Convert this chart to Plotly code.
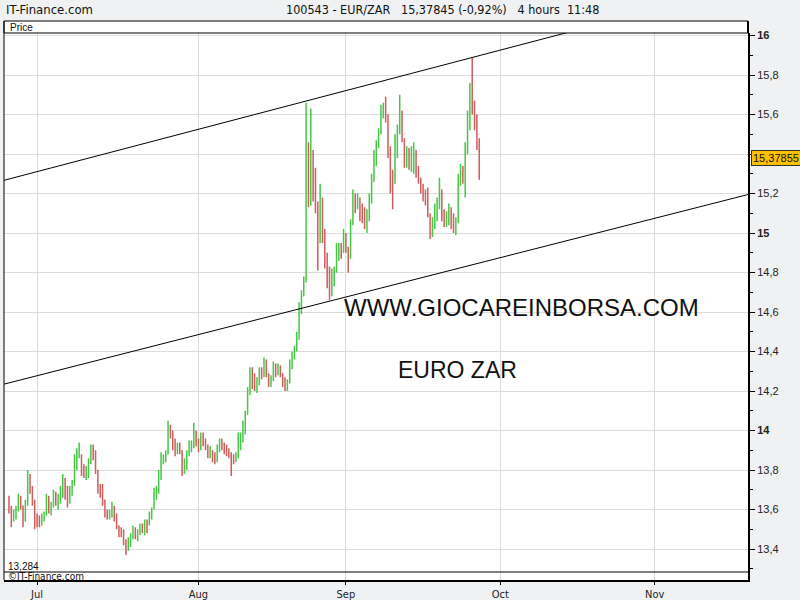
import pandas as pd
import plotly.graph_objects as go

# ---------------- data (8-hour bars, EUR/ZAR) ----------------
first_open = 13.65

jun_high = [13.67, 13.62, 13.60, 13.62, 13.68, 13.67, 13.62, 13.65, 13.80, 13.78, 13.72, 13.65]
jun_low = [13.58, 13.51, 13.54, 13.55, 13.59, 13.60, 13.51, 13.54, 13.62, 13.68, 13.62, 13.50]
jun_close = [13.60, 13.55, 13.57, 13.60, 13.65, 13.62, 13.54, 13.63, 13.76, 13.70, 13.64, 13.55]

jul_high = [13.58, 13.57, 13.58, 13.59, 13.68, 13.67, 13.64, 13.70, 13.69, 13.68, 13.72, 13.78,
            13.76, 13.72, 13.72, 13.75, 13.88, 13.91, 13.94, 13.88, 13.83, 13.82, 13.86, 13.93,
            13.93, 13.90, 13.80, 13.73, 13.73, 13.65, 13.60, 13.60, 13.64, 13.62, 13.58, 13.52,
            13.51, 13.50, 13.45, 13.46, 13.48, 13.52, 13.51, 13.50, 13.53, 13.53, 13.55, 13.55,
            13.59, 13.61, 13.71, 13.72, 13.80, 13.89, 13.88, 13.90, 14.05, 14.03, 14.00, 13.96,
            13.94, 13.94, 13.90, 13.86, 13.90, 13.95, 13.95, 14.04, 14.00]
jul_low = [13.51, 13.51, 13.52, 13.54, 13.57, 13.58, 13.57, 13.61, 13.62, 13.60, 13.63, 13.66,
           13.65, 13.61, 13.63, 13.67, 13.72, 13.80, 13.86, 13.77, 13.76, 13.75, 13.76, 13.83,
           13.85, 13.78, 13.68, 13.66, 13.62, 13.56, 13.55, 13.55, 13.56, 13.54, 13.50, 13.46,
           13.46, 13.42, 13.37, 13.39, 13.41, 13.45, 13.45, 13.44, 13.47, 13.48, 13.47, 13.48,
           13.52, 13.55, 13.60, 13.65, 13.68, 13.75, 13.83, 13.84, 13.88, 13.96, 13.90, 13.87,
           13.88, 13.88, 13.77, 13.78, 13.80, 13.87, 13.89, 13.91, 13.92]
jul_close = [13.55, 13.53, 13.56, 13.57, 13.66, 13.60, 13.62, 13.67, 13.64, 13.65, 13.70, 13.74,
             13.68, 13.64, 13.70, 13.73, 13.85, 13.88, 13.90, 13.80, 13.79, 13.80, 13.84, 13.90,
             13.88, 13.80, 13.71, 13.70, 13.65, 13.58, 13.57, 13.58, 13.61, 13.56, 13.52, 13.49,
             13.48, 13.44, 13.40, 13.44, 13.46, 13.50, 13.47, 13.48, 13.51, 13.50, 13.53, 13.50,
             13.57, 13.60, 13.68, 13.70, 13.77, 13.86, 13.86, 13.88, 14.00, 13.99, 13.93, 13.90,
             13.92, 13.90, 13.80, 13.82, 13.88, 13.92, 13.92, 13.98, 13.95]

aug_high = [13.96, 13.99, 13.99, 13.96, 13.93, 13.92, 13.90, 13.89, 13.93, 13.96, 13.96, 13.94,
            13.93, 13.91, 13.89, 13.88, 13.89, 13.99, 13.99, 14.05, 14.10, 14.22, 14.32, 14.32,
            14.29, 14.27, 14.32, 14.32, 14.37, 14.36, 14.29, 14.28, 14.35, 14.34, 14.34, 14.33,
            14.29, 14.27, 14.26, 14.36, 14.40, 14.43, 14.50, 14.65, 14.71, 14.78, 15.66, 15.46,
            15.63, 15.42, 15.33, 15.16, 15.25, 15.18, 15.02, 14.90, 14.83, 14.82, 14.83, 14.95,
            14.95, 14.95, 15.02]
aug_low = [13.89, 13.90, 13.92, 13.90, 13.86, 13.86, 13.84, 13.83, 13.84, 13.89, 13.90, 13.88,
           13.87, 13.86, 13.77, 13.83, 13.84, 13.86, 13.90, 13.94, 13.98, 14.08, 14.18, 14.21,
           14.20, 14.19, 14.23, 14.26, 14.27, 14.27, 14.22, 14.22, 14.25, 14.27, 14.28, 14.27,
           14.22, 14.20, 14.20, 14.24, 14.31, 14.36, 14.40, 14.46, 14.59, 14.68, 14.75, 15.13,
           15.14, 15.16, 15.10, 14.81, 14.95, 14.95, 14.82, 14.72, 14.66, 14.68, 14.73, 14.80,
           14.86, 14.87, 14.90]
aug_close = [13.91, 13.96, 13.94, 13.92, 13.88, 13.90, 13.86, 13.85, 13.91, 13.94, 13.92, 13.90,
             13.89, 13.88, 13.86, 13.86, 13.87, 13.95, 13.96, 14.02, 14.08, 14.18, 14.28, 14.25,
             14.23, 14.24, 14.30, 14.29, 14.34, 14.30, 14.25, 14.26, 14.32, 14.30, 14.32, 14.29,
             14.24, 14.22, 14.24, 14.33, 14.38, 14.41, 14.47, 14.60, 14.68, 14.76, 15.30, 15.25,
             15.35, 15.30, 15.15, 14.95, 15.15, 15.00, 14.88, 14.78, 14.74, 14.78, 14.80, 14.90,
             14.92, 14.90, 14.98]

sep_high = [15.00, 14.93, 15.07, 15.22, 15.20, 15.20, 15.18, 15.15, 15.13, 15.12, 15.20, 15.30,
            15.42, 15.47, 15.53, 15.65, 15.66, 15.69, 15.60, 15.44, 15.32, 15.50, 15.55, 15.70,
            15.62, 15.48, 15.44, 15.43, 15.44, 15.46, 15.42, 15.34, 15.28, 15.25, 15.22, 15.23,
            15.10, 15.08, 15.15, 15.18, 15.28, 15.22, 15.12, 15.11, 15.15, 15.13, 15.10, 15.08,
            15.30, 15.35, 15.34, 15.46, 15.62, 15.76, 15.89, 15.67, 15.60, 15.48]
sep_low = [14.90, 14.80, 14.87, 15.04, 15.10, 15.12, 15.06, 15.05, 15.02, 15.00, 15.06, 15.15,
           15.26, 15.34, 15.43, 15.50, 15.58, 15.56, 15.38, 15.20, 15.12, 15.25, 15.38, 15.50,
           15.46, 15.33, 15.33, 15.32, 15.31, 15.30, 15.28, 15.25, 15.20, 15.16, 15.14, 15.08,
           14.97, 14.98, 15.02, 15.06, 15.12, 15.06, 15.03, 15.03, 15.04, 15.02, 15.00, 14.99,
           15.05, 15.24, 15.25, 15.18, 15.40, 15.52, 15.60, 15.52, 15.42, 15.27]
sep_close = [14.92, 14.88, 15.02, 15.18, 15.14, 15.16, 15.10, 15.08, 15.05, 15.08, 15.17, 15.26,
             15.38, 15.45, 15.50, 15.60, 15.62, 15.60, 15.42, 15.30, 15.25, 15.45, 15.52, 15.60,
             15.50, 15.38, 15.40, 15.38, 15.40, 15.42, 15.30, 15.27, 15.23, 15.20, 15.17, 15.12,
             15.00, 15.04, 15.12, 15.16, 15.22, 15.08, 15.06, 15.08, 15.10, 15.06, 15.04, 15.06,
             15.26, 15.30, 15.28, 15.42, 15.56, 15.70, 15.65, 15.58, 15.50, 15.37855]

# trading channel (value at left and right edge of the view)
channel_x = ["2015-06-24 07:00", "2015-11-19 07:00"]
upper_channel = [15.267, 16.255]
lower_channel = [14.235, 15.195]

month_ticks = ["2015-07-01", "2015-08-03", "2015-09-01", "2015-10-01", "2015-11-02"]
month_labels = ["Jul", "Aug", "Sep", "Oct", "Nov"]

# the 15,4 label is hidden behind the last-price marker in the reference
price_ticks = [13.4, 13.6, 13.8, 14.0, 14.2, 14.4, 14.6, 14.8, 15.0, 15.2, 15.4, 15.6, 15.8, 16.0]
price_labels = ["13,4", "13,6", "13,8", "<b>14</b>", "14,2", "14,4", "14,6", "14,8", "<b>15</b>",
                "15,2", "", "15,6", "15,8", "<b>16</b>"]

# ---------------- build ----------------
highs = jun_high + jul_high + aug_high + sep_high
lows = jun_low + jul_low + aug_low + sep_low
closes = jun_close + jul_close + aug_close + sep_close
opens = [first_open] + closes[:-1]

days = pd.bdate_range("2015-06-25", "2015-09-25")
times = []
for d in days:
    for h in (0, 8, 16):
        times.append(d + pd.Timedelta(hours=h))
times.append(pd.Timestamp("2015-09-28 00:00"))
assert len(times) == len(closes) == len(highs) == len(lows), (len(times), len(closes), len(highs), len(lows))

NARROW = "Liberation Sans Narrow, DejaVu Sans Condensed, Arial Narrow, Liberation Sans, sans-serif"
SANS = "Liberation Sans, Arial, sans-serif"

fig = go.Figure()
fig.add_trace(go.Ohlc(
    x=times, open=opens, high=highs, low=lows, close=closes,
    increasing=dict(line=dict(color="#46c746", width=1.5)),
    decreasing=dict(line=dict(color="#d05c5c", width=1.5)),
    tickwidth=0.15, showlegend=False, hoverinfo="skip"))
for vals in (upper_channel, lower_channel):
    fig.add_trace(go.Scatter(x=channel_x, y=vals, mode="lines",
                             line=dict(color="black", width=1), showlegend=False, hoverinfo="skip"))

PH = 547.0
strip = 8 / PH
box_top = 1 + 12 / PH

shapes = [
    dict(type="rect", xref="paper", yref="paper", x0=0, x1=1, y0=0, y1=strip,
         fillcolor="white", line=dict(width=0), layer="between"),
    dict(type="line", xref="paper", yref="paper", x0=0, x1=1, y0=strip, y1=strip,
         line=dict(color="black", width=1)),
    dict(type="rect", xref="paper", yref="paper", x0=0, x1=1, y0=1, y1=box_top,
         fillcolor="white", line=dict(color="black", width=1)),
    dict(type="line", xref="paper", yref="paper", x0=0, x1=0, y0=0, y1=box_top,
         line=dict(color="black", width=1)),
    dict(type="line", xref="paper", yref="paper", x0=1, x1=1, y0=1, y1=box_top,
         line=dict(color="black", width=2)),
]

annotations = [
    dict(xref="paper", yref="paper", x=0.006, y=1 + 6 / PH, text="Price", showarrow=False,
         xanchor="left", yanchor="middle", font=dict(family=SANS, size=10, color="#111")),
    dict(xref="paper", yref="paper", x=0.0, y=1 + 24 / PH, text="IT-Finance.com", showarrow=False,
         xanchor="left", yanchor="middle", font=dict(family=NARROW, size=13, color="#111")),
    dict(xref="paper", yref="paper", x=(442 - 4) / 744, y=1 + 24 / PH,
         text="100543 - EUR/ZAR&nbsp;&nbsp;&nbsp;15,37845 (-0,92%)&nbsp;&nbsp;&nbsp;4 hours&nbsp;&nbsp;11:48",
         showarrow=False, xanchor="center", yanchor="middle",
         font=dict(family=NARROW, size=12.5, color="#111")),
    dict(xref="paper", yref="paper", x=0.003, y=14 / PH, text="13,284", showarrow=False,
         xanchor="left", yanchor="middle", font=dict(family=SANS, size=10, color="#111")),
    dict(xref="paper", yref="paper", x=0.003, y=4 / PH, text="©IT-Finance.com", showarrow=False,
         xanchor="left", yanchor="middle", font=dict(family=NARROW, size=10, color="#111")),
    dict(xref="paper", yref="paper", x=(521 - 4) / 744, y=(580 - 307) / PH,
         text="WWW.GIOCAREINBORSA.COM", showarrow=False, xanchor="center", yanchor="middle",
         font=dict(family=SANS, size=24, color="#111")),
    dict(xref="paper", yref="paper", x=(457 - 4) / 744, y=(580 - 370) / PH,
         text="EURO ZAR", showarrow=False, xanchor="center", yanchor="middle",
         font=dict(family=SANS, size=23, color="#111")),
    dict(xref="paper", yref="y", x=1, y=closes[-1], text="15,37855", showarrow=False,
         xanchor="left", yanchor="middle", xshift=3, bgcolor="#ffc000",
         bordercolor="#333", borderwidth=1, borderpad=1,
         font=dict(family=SANS, size=11, color="#111")),
]

fig.update_layout(
    width=800, height=600,
    margin=dict(l=4, r=52, t=33, b=20, autoexpand=False),
    paper_bgcolor="#eff1f3", plot_bgcolor="white",
    shapes=shapes, annotations=annotations,
    xaxis=dict(
        type="date", range=["2015-06-24 07:00", "2015-11-19 07:00"],
        rangebreaks=[dict(bounds=["sat", "mon"])],
        rangeslider=dict(visible=False), automargin=False,
        tickmode="array", tickvals=month_ticks, ticktext=month_labels,
        showgrid=True, gridcolor="#dcdcdc", gridwidth=1,
        ticks="outside", ticklen=3, tickcolor="black",
        showline=True, linecolor="black", linewidth=2,
        tickfont=dict(family=NARROW, size=11, color="#222"), zeroline=False),
    yaxis=dict(
        side="right", range=[13.2435, 16.0127], automargin=False,
        tickmode="array", tickvals=price_ticks, ticktext=price_labels,
        showgrid=True, gridcolor="#dcdcdc", gridwidth=1,
        ticks="outside", ticklen=5, tickcolor="black",
        minor=dict(tickmode="linear", tick0=13.3, dtick=0.2, ticks="outside", ticklen=3,
                   tickcolor="black", showgrid=False),
        showline=True, linecolor="black", linewidth=2,
        tickfont=dict(family=SANS, size=11, color="#222"), zeroline=False),
)

fig.write_html("out.html", config={"displayModeBar": False},
               post_script="document.body.style.margin='0';document.body.style.overflow='hidden';")
